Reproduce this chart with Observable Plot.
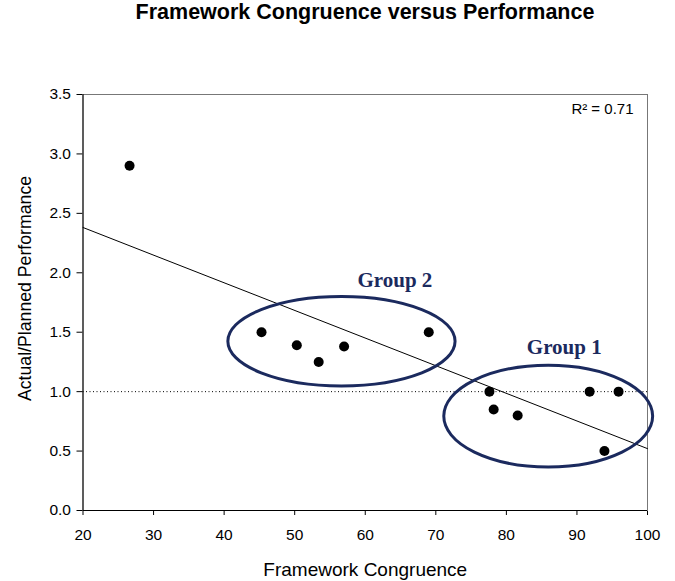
<!DOCTYPE html>
<html>
<head>
<meta charset="utf-8">
<script src="https://cdn.jsdelivr.net/npm/d3@7"></script>
<script src="https://cdn.jsdelivr.net/npm/@observablehq/plot@0.6"></script>
<style>
  html, body { margin: 0; padding: 0; background: #fff; }
  #title { width: 675px; height: 40px; line-height: 40px; box-sizing: border-box; padding-left: 55px;
           text-align: center; font: bold 21.5px Arial, "Liberation Sans", sans-serif; color: #000; }
</style>
</head>
<body>
<div id="title">Framework Congruence versus Performance</div>
<div id="chart"></div>
<script>
// Data
const congruence  = [26.6, 45.3, 50.3, 53.4, 57.0, 69.0, 77.6, 78.2, 81.6, 91.8, 93.9, 95.9];
const performance = [2.90, 1.50, 1.39, 1.25, 1.38, 1.50, 1.00, 0.85, 0.80, 1.00, 0.50, 1.00];
const xTicks = [20, 30, 40, 50, 60, 70, 80, 90, 100];
const yTicks = [0, 0.5, 1, 1.5, 2, 2.5, 3, 3.5];
const groupNames = ["Group 2", "Group 1"];
const groupCx = [56.7, 86.0];
const groupCy = [1.42, 0.79];
const groupRx = [16.1, 14.8];
const groupRy = [0.376, 0.428];
const groupLabelX = [64.2, 88.2];
const groupLabelY = [1.94, 1.37];

const points = congruence.map((x, i) => ({x, y: performance[i]}));

// Least-squares trend line
const mx = d3.mean(congruence), my = d3.mean(performance);
const sxy = d3.sum(points, d => (d.x - mx) * (d.y - my));
const sxx = d3.sum(points, d => (d.x - mx) ** 2);
const syy = d3.sum(points, d => (d.y - my) ** 2);
const slope = sxy / sxx, intercept = my - slope * mx;
const r2 = (sxy * sxy) / (sxx * syy);
const trend = [20, 100].map(x => ({x, y: intercept + slope * x}));

const groups = groupNames.map((name, i) => ({name, cx: groupCx[i], cy: groupCy[i], rx: groupRx[i], ry: groupRy[i], lx: groupLabelX[i], ly: groupLabelY[i]}));

const navy = "#1b2a5e";
const sans = "Arial, 'Liberation Sans', sans-serif";
const serif = "'Times New Roman', 'Liberation Serif', serif";

const plot = Plot.plot({
  width: 675,
  height: 541,
  marginTop: 54,
  marginBottom: 71,
  marginLeft: 82.5,
  marginRight: 28,
  style: {fontFamily: sans, fontSize: "15.5px", color: "#000", background: "#fff", overflow: "visible"},
  x: {domain: [20, 100], ticks: xTicks, tickSize: 5, tickPadding: 13, label: null},
  y: {domain: [0, 3.5], ticks: yTicks, tickFormat: d => d.toFixed(1), tickSize: 6, tickPadding: 6, label: null},
  marks: [
    Plot.frame({stroke: "#777", strokeWidth: 1}),
    Plot.ruleX([20], {stroke: "#000", strokeWidth: 1}),
    Plot.ruleY([0], {stroke: "#000", strokeWidth: 1}),
    Plot.ruleY([1], {stroke: "#000", strokeWidth: 1, strokeDasharray: "1,2.5"}),
    Plot.line(trend, {x: "x", y: "y", stroke: "#000", strokeWidth: 1}),
    Plot.dot(points, {x: "x", y: "y", r: 5, fill: "#000", stroke: "none"}),
    Plot.text(groups, {x: "lx", y: "ly", text: "name", fill: navy, fontFamily: serif, fontWeight: "bold", fontSize: 21}),
    Plot.text([`R² = ${r2.toFixed(2)}`], {frameAnchor: "top-right", dx: -14, dy: 9, textAnchor: "end", lineAnchor: "top", fontSize: 15}),
    Plot.text(["Framework Congruence"], {frameAnchor: "bottom", dy: 59, lineAnchor: "middle", textAnchor: "middle", fontSize: 19}),
    Plot.text(["Actual/Planned Performance"], {frameAnchor: "left", dx: -57.5, dy: -14, rotate: -90, textAnchor: "middle", lineAnchor: "middle", fontSize: 17.7})
  ]
});

// Ellipses drawn through the plot's own scales
const xs = plot.scale("x"), ys = plot.scale("y");
const svg = d3.select(plot);
const g = svg.insert("g", "g[aria-label='dot']");
groups.forEach(d => {
  const cx = xs.apply(d.cx), cy = ys.apply(d.cy);
  const rx = Math.abs(xs.apply(d.cx + d.rx) - cx);
  const ry = Math.abs(ys.apply(d.cy + d.ry) - cy);
  g.append("ellipse").attr("cx", cx).attr("cy", cy).attr("rx", rx).attr("ry", ry)
    .attr("fill", "none").attr("stroke", navy).attr("stroke-width", 3);
});

document.getElementById("chart").appendChild(plot);
</script>
</body>
</html>
